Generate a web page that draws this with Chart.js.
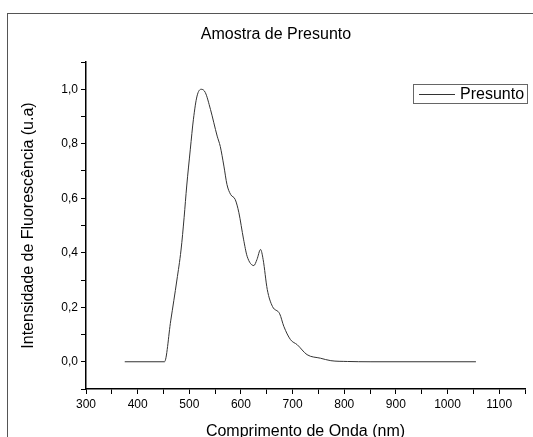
<!DOCTYPE html>
<html>
<head>
<meta charset="utf-8">
<script src="https://cdn.jsdelivr.net/npm/chart.js@4"></script>
<style>
  html, body { margin: 0; padding: 0; background: #fff; overflow: hidden; }
  #wrap { position: relative; width: 533px; height: 445px; }
  #frame { position: absolute; left: 7px; top: 13px; width: 600px; height: 600px;
           border-left: 1px solid #555; border-top: 1px solid #555; pointer-events: none; }
</style>
</head>
<body>
<div id="wrap">
  <canvas id="grafico" width="533" height="445"></canvas>
  <div id="frame"></div>
</div>
<script>
// comprimento de onda (nm) e intensidade normalizada
const comprimentos = [375, 452, 464, 476, 484, 490, 495, 502, 508, 515, 523, 531, 541, 554, 560, 567, 573, 580, 589, 596,
  605, 612, 625, 631, 638, 643, 651, 661, 675, 683, 696, 709, 728, 754, 774, 806, 850, 1055];
const intensidades = [0, 0, 0.15, 0.30, 0.41, 0.53, 0.645, 0.78, 0.89, 0.975, 1.0, 0.988, 0.926, 0.828, 0.79, 0.718, 0.65, 0.614, 0.595, 0.547,
  0.45, 0.387, 0.353, 0.375, 0.412, 0.375, 0.265, 0.203, 0.176, 0.13, 0.081, 0.0625, 0.026, 0.013, 0.004, 0.001, 0, 0];
const serieNome = 'Presunto';
const titulo = 'Amostra de Presunto';

const pontos = comprimentos.map((c, i) => ({ x: c, y: intensidades[i] }));

const fonte = '"Liberation Sans", Arial, sans-serif';

// titulo e legenda desenhados na posicao do original
const extras = {
  id: 'extras',
  afterDraw(chart) {
    const ctx = chart.ctx;
    ctx.save();
    ctx.fillStyle = '#000';
    ctx.font = '16px ' + fonte;
    ctx.textAlign = 'center';
    ctx.textBaseline = 'middle';
    ctx.fillText(titulo, 276, 35);

    ctx.strokeStyle = '#666';
    ctx.lineWidth = 1;
    ctx.strokeRect(413.5, 84.5, 114, 19);
    ctx.strokeStyle = '#333';
    ctx.beginPath();
    ctx.moveTo(419, 94.5);
    ctx.lineTo(455, 94.5);
    ctx.stroke();
    ctx.font = '16px ' + fonte;
    ctx.textAlign = 'left';
    ctx.fillText(serieNome, 460, 95);
    ctx.restore();
  }
};

const fonteTick = { family: fonte, size: 12 };

new Chart(document.getElementById('grafico').getContext('2d'), {
  type: 'line',
  data: {
    datasets: [{
      label: serieNome,
      data: pontos,
      borderColor: '#333',
      borderWidth: 1,
      pointRadius: 0,
      fill: false,
      cubicInterpolationMode: 'monotone'
    }]
  },
  options: {
    responsive: false,
    animation: false,
    layout: { padding: { top: 62, right: 8, bottom: 0, left: 0 } },
    plugins: {
      legend: { display: false },
      title: { display: false },
      tooltip: { enabled: false }
    },
    scales: {
      x: {
        type: 'linear',
        min: 300,
        max: 1150,
        afterFit: (s) => { s.height = 56; },
        ticks: {
          stepSize: 50,
          color: '#000',
          font: fonteTick,
          padding: 3,
          maxRotation: 0,
          autoSkip: false,
          callback: (v) => (v % 100 === 0 ? String(v) : '')
        },
        grid: { drawOnChartArea: false, tickLength: 5, color: '#000' },
        border: { display: true, color: '#000', width: 1.5 },
        title: {
          display: true,
          text: 'Comprimento de Onda (nm)',
          color: '#000',
          font: { family: fonte, size: 16 },
          padding: { top: 0, bottom: 4 }
        }
      },
      y: {
        min: -0.1,
        max: 1.1,
        afterFit: (s) => { s.width = 86; },
        ticks: {
          stepSize: 0.1,
          color: '#000',
          font: fonteTick,
          padding: 3,
          autoSkip: false,
          callback: (v) => {
            const n = Math.round(v * 10);
            return n % 2 === 0 ? (n / 10).toFixed(1).replace('.', ',') : '';
          }
        },
        grid: { drawOnChartArea: false, tickLength: 5, color: '#000' },
        border: { display: true, color: '#000', width: 1.5 },
        title: {
          display: true,
          text: 'Intensidade de Fluorescência (u.a)',
          color: '#000',
          font: { family: fonte, size: 16 },
          padding: { top: 19, bottom: 0 }
        }
      }
    }
  },
  plugins: [extras]
});
</script>
</body>
</html>
